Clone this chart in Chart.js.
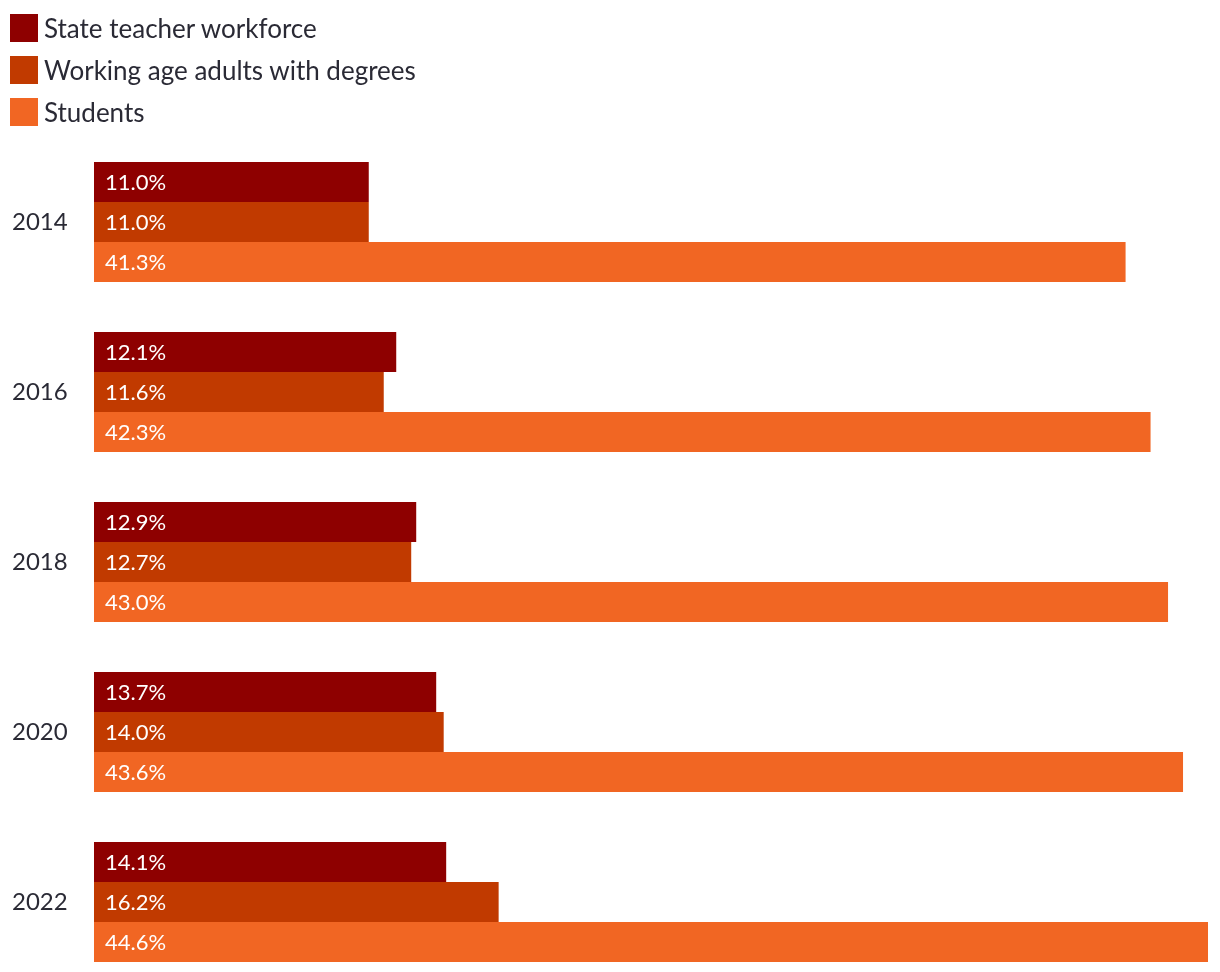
<!DOCTYPE html>
<html>
<head>
<meta charset="utf-8">
<script src="https://cdn.jsdelivr.net/npm/chart.js@4.4.0/dist/chart.umd.min.js"></script>
<style>
  body { margin: 0; overflow: hidden; background: #fff; font-family: Lato, sans-serif; }
  #wrap { position: relative; width: 1220px; height: 972px; overflow: hidden; }
  #legend { position: absolute; left: 10px; top: 14px; z-index: 2; }
  .item { display: flex; align-items: center; height: 28px; margin-bottom: 14px; font-size: 26px; color: #2a2a35; white-space: nowrap; }
  .box { width: 28px; height: 28px; margin-right: 6px; flex: none; }
  canvas { position: absolute; left: 0; top: 0; }
</style>
</head>
<body>
<div id="wrap">
  <div id="legend"></div>
  <canvas id="chart" width="1220" height="972"></canvas>
</div>
<script>
const years = ['2014', '2016', '2018', '2020', '2022'];
const seriesNames = ['State teacher workforce', 'Working age adults with degrees', 'Students'];
const teachers = [11.0, 12.1, 12.9, 13.7, 14.1];
const adults = [11.0, 11.6, 12.7, 14.0, 16.2];
const students = [41.3, 42.3, 43.0, 43.6, 44.6];
const colors = ['#8e0000', '#c13a00', '#f16623'];

const textColor = '#2a2a35';

// white value labels inside each bar, near the left edge
const barLabels = {
    id: 'barLabels',
    afterDatasetsDraw(chart) {
        const ctx = chart.ctx;
        ctx.save();
        ctx.font = '22px Lato, sans-serif';
        ctx.fillStyle = '#fff';
        ctx.textAlign = 'left';
        ctx.textBaseline = 'middle';
        chart.data.datasets.forEach((ds, i) => {
            chart.getDatasetMeta(i).data.forEach((bar, j) => {
                ctx.fillText(ds.data[j].toFixed(1) + '%', bar.base + 11, bar.y + 1);
            });
        });
        ctx.restore();
    }
};

const ctx = document.getElementById('chart').getContext('2d');
const chart = new Chart(ctx, {
    type: 'bar',
    data: {
        labels: years,
        datasets: [teachers, adults, students].map((d, i) => ({
            label: seriesNames[i],
            data: d,
            backgroundColor: colors[i],
            borderWidth: 0,
            barPercentage: 1,
            categoryPercentage: 0.706,
            clip: false
        }))
    },
    options: {
        indexAxis: 'y',
        responsive: false,
        animation: false,
        // no offset: first/last category sit on the chart area edges, bars overflow
        layout: { padding: { top: 222, left: 12, right: 2, bottom: 70 } },
        scales: {
            x: { display: false, min: 0, max: 45 },
            y: {
                offset: false,
                grid: { display: false },
                border: { display: false },
                ticks: {
                    color: textColor,
                    font: { family: 'Lato, sans-serif', size: 24 },
                    crossAlign: 'far',
                    padding: 0
                },
                afterFit(scale) { scale.width = 82; }
            }
        },
        plugins: {
            legend: { display: false },
            tooltip: { enabled: false }
        }
    },
    plugins: [barLabels]
});

// simple html legend stacked on the left
const legend = document.getElementById('legend');
legend.innerHTML = seriesNames.map((name, i) => `
    <div class="item"><span class="box" style="background:${colors[i]}"></span>${name}</div>
`).join('');
</script>
</body>
</html>
